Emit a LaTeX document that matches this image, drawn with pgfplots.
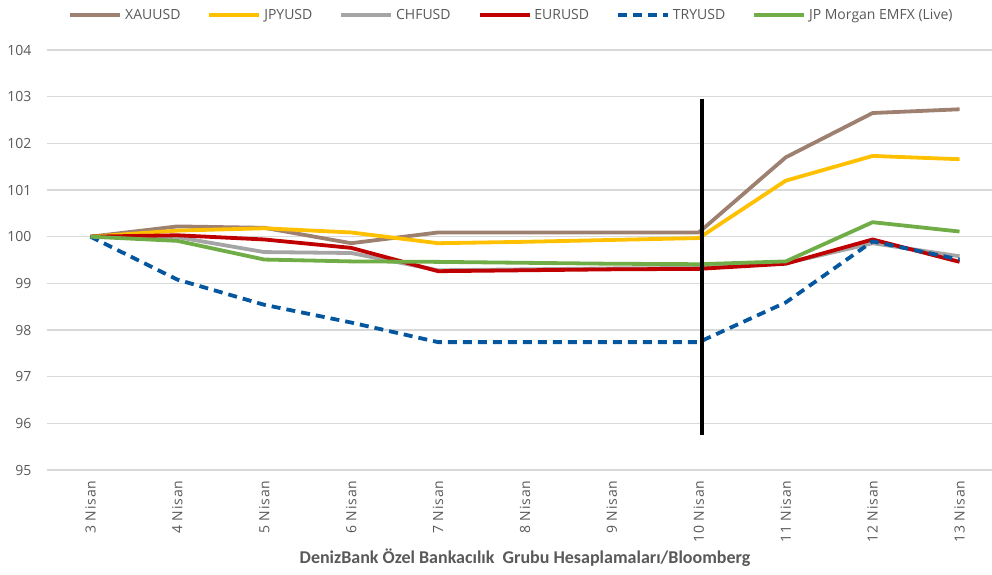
\documentclass[border=0pt]{standalone}
\usepackage{fontspec}
\setmainfont{Open Sans}
\newfontfamily\titlefont{Carlito}
\newfontfamily\tickfont[LetterSpace=6]{Open Sans}
\usepackage{pgfplots}
\pgfplotsset{compat=1.18}
\definecolor{xau}{RGB}{158,128,112}
\definecolor{jpy}{RGB}{255,192,0}
\definecolor{chf}{RGB}{165,165,165}
\definecolor{eur}{RGB}{192,0,0}
\definecolor{try}{RGB}{4,86,158}
\definecolor{emfx}{RGB}{112,173,71}
\definecolor{gridgray}{RGB}{217,217,217}
\definecolor{tickgray}{RGB}{89,89,89}
\begin{document}
\begin{tikzpicture}[x=1pt,y=1pt]
\path[use as bounding box] (-47,-104) rectangle (945,470);
\begin{axis}[
  scale only axis, width=956pt, height=420pt,
  xmin=-0.5, xmax=10.5, ymin=95, ymax=104,
  xtick={0,...,10},
  xticklabels={3 Nisan,4 Nisan,5 Nisan,6 Nisan,7 Nisan,8 Nisan,9 Nisan,10 Nisan,11 Nisan,12 Nisan,13 Nisan},
  x tick label style={rotate=90, anchor=east, font=\tickfont\fontsize{14}{16}\selectfont, text=tickgray, xshift=-7pt},
  ytick={95,96,...,104},
  y tick label style={font=\fontsize{14}{16}\selectfont, text=tickgray, xshift=-12pt},
  /pgf/number format/assume math mode=true,
  ymajorgrids, grid style={gridgray, line width=1.2pt},
  axis line style={draw=none}, tick style={draw=none}, major tick length=0pt,
  xlabel={\titlefont\bfseries DenizBank Özel Bankacılık\ \ Grubu Hesaplamaları/Bloomberg},
  xlabel style={at={(axis description cs:0,0)}, anchor=center, yshift=-88pt, xshift=478pt, font=\fontsize{18}{20}\selectfont, text=tickgray},
  legend columns=6,
  legend style={draw=none, fill=none, at={(axis description cs:0,1.083)}, anchor=center, xshift=465pt,
    font=\fontsize{14}{16}\selectfont, text=tickgray,
    /tikz/every even column/.append style={column sep=24pt},
    nodes={inner xsep=3pt}},
  legend image code/.code={\draw[#1] (0pt,0pt) -- (50pt,0pt);},
  every axis plot/.append style={line width=3.8pt, line join=round},
]
\addplot[xau] coordinates {(0,100) (1,100.22) (2,100.19) (3,99.86) (4,100.09) (5,100.09) (6,100.09) (7,100.09) (8,101.70) (9,102.65) (10,102.73)};
\addlegendentry{XAUUSD}
\addplot[jpy] coordinates {(0,100) (1,100.13) (2,100.18) (3,100.09) (4,99.86) (5,99.89) (6,99.93) (7,99.97) (8,101.20) (9,101.73) (10,101.66)};
\addlegendentry{JPYUSD}
\addplot[chf] coordinates {(0,100) (1,99.99) (2,99.67) (3,99.65) (4,99.28) (5,99.30) (6,99.32) (7,99.33) (8,99.43) (9,99.86) (10,99.58)};
\addlegendentry{CHFUSD}
\addplot[eur] coordinates {(0,100) (1,100.03) (2,99.94) (3,99.76) (4,99.26) (5,99.28) (6,99.30) (7,99.31) (8,99.42) (9,99.94) (10,99.46)};
\addlegendentry{EURUSD}
\addplot[try, dash pattern=on 9pt off 6pt] coordinates {(0,100) (1,99.08) (2,98.54) (3,98.16) (4,97.74) (5,97.74) (6,97.74) (7,97.74) (8,98.59) (9,99.90) (10,99.51)};
\addlegendentry{TRYUSD}
\addplot[emfx] coordinates {(0,100) (1,99.91) (2,99.51) (3,99.47) (4,99.46) (5,99.44) (6,99.42) (7,99.41) (8,99.47) (9,100.31) (10,100.11)};
\addlegendentry{JP Morgan EMFX (Live)}
\addplot[black, line width=3.8pt, forget plot] coordinates {(7.04,95.75) (7.04,102.95)};
\end{axis}
\end{tikzpicture}
\end{document}
